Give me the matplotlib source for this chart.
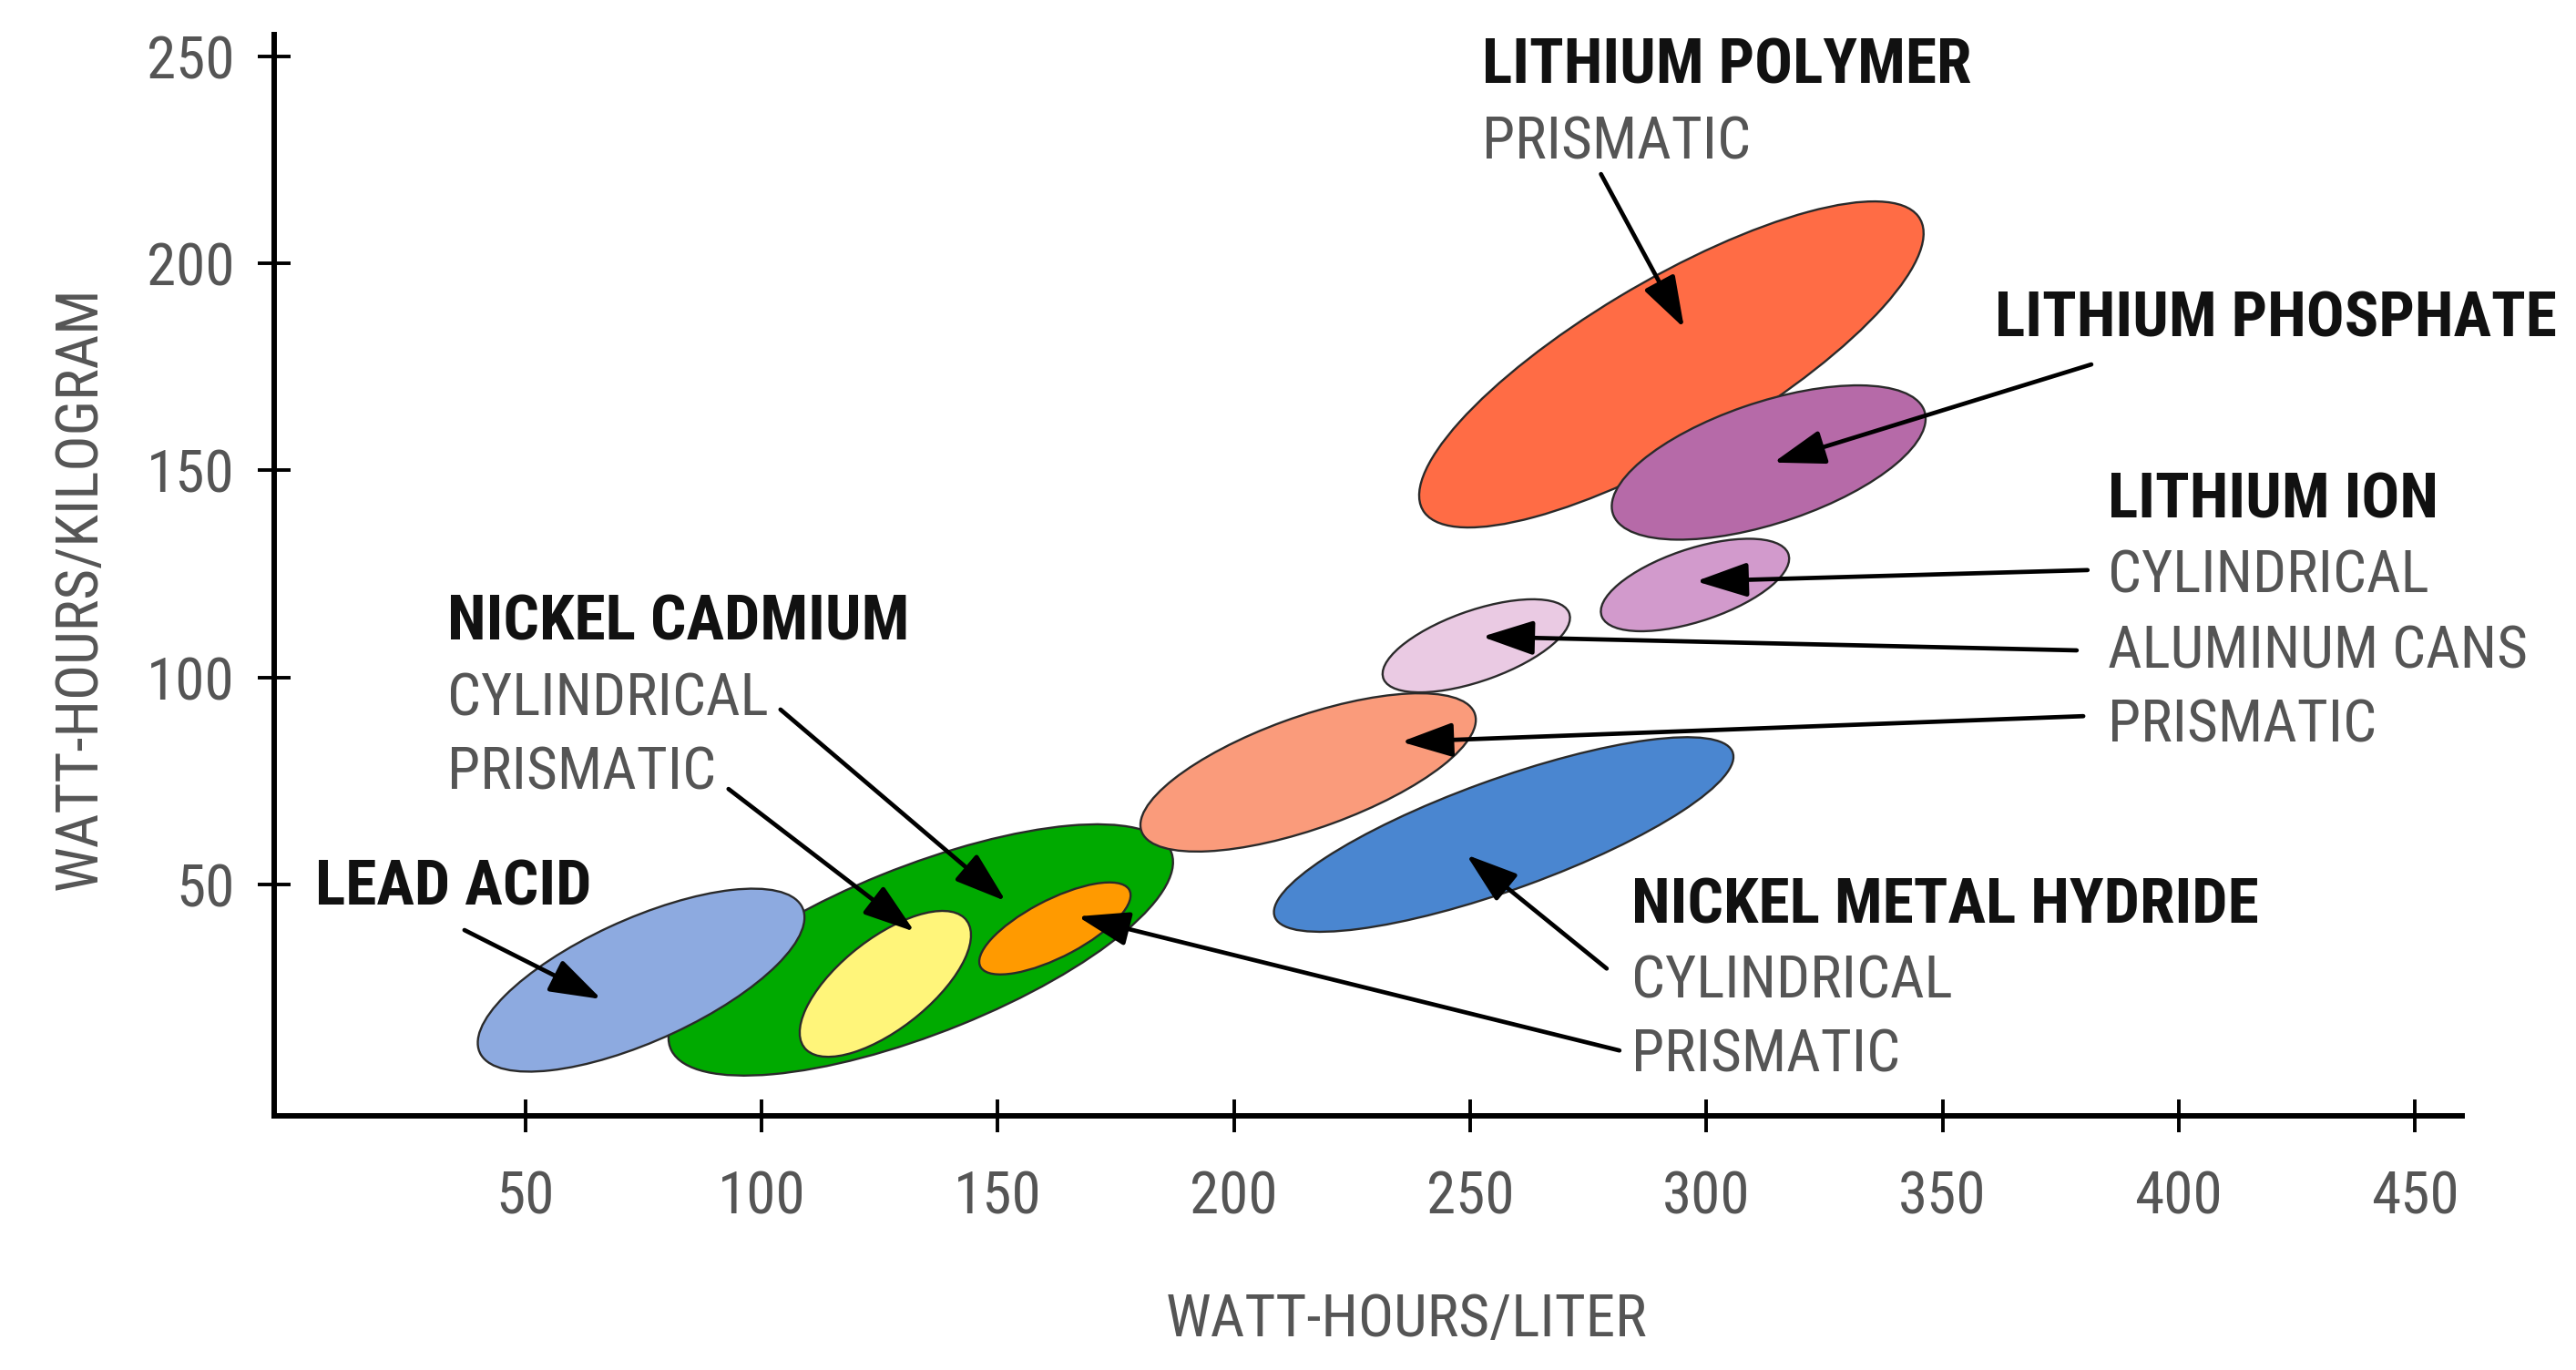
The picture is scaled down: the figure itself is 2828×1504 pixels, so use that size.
import matplotlib

matplotlib.use("Agg")
import matplotlib.pyplot as plt
from matplotlib import font_manager
from matplotlib.patches import Ellipse

# the original uses a condensed grotesque; take the first narrow face that is installed
plt.rcParams["font.family"] = ["Roboto Condensed", "Liberation Sans Narrow", "Arial Narrow",
                               "Noto Sans Condensed", "DejaVu Sans Condensed",
                               "Liberation Sans", "DejaVu Sans"]
plt.rcParams["font.stretch"] = "condensed"
_face = font_manager.findfont(font_manager.FontProperties(
    family=plt.rcParams["font.family"], stretch="condensed")).lower()
NARROW = "narrow" in _face or "condensed" in _face
FS_BOLD = 50 if NARROW else 41
FS_TEXT = 47 if NARROW else 39

# energy-density regions: centre (Wh/L, Wh/kg), ellipse extent and tilt in data units
regions = ["NiCd cylindrical", "lead acid", "NiCd prismatic", "NiMH prismatic",
           "Li-ion prismatic", "NiMH cylindrical", "Li-ion aluminum cans",
           "Li-ion cylindrical", "Li polymer", "Li phosphate"]
center_wh_l = [133.7, 74.5, 126.2, 162.1, 215.7, 257.1, 251.3, 297.6, 292.6, 313.2]
center_wh_kg = [34.1, 26.8, 25.9, 39.3, 77.0, 62.0, 107.6, 122.3, 175.6, 151.9]
span_major = [116.2, 76.8, 46.2, 36.6, 76.1, 104.8, 42.4, 42.3, 126.7, 70.5]
span_minor = [39.9, 29.0, 20.6, 13.5, 26.7, 26.3, 16.8, 17.3, 39.5, 28.9]
tilt_deg = [24.8, 28.0, 43.8, 31.3, 22.6, 22.6, 22.6, 21.5, 34.5, 21.5]
fills = ["#00AA00", "#8DAAE0", "#FFF57A", "#FF9A00", "#FA9B7B", "#4A86D0",
         "#EACAE3", "#D29ACC", "#FF6C45", "#B66AA8"]

# labels (left edge, vertical centre, in data units)
label_text = ["LEAD ACID", "NICKEL CADMIUM", "CYLINDRICAL", "PRISMATIC",
              "LITHIUM POLYMER", "PRISMATIC", "LITHIUM PHOSPHATE",
              "LITHIUM ION", "CYLINDRICAL", "ALUMINUM CANS", "PRISMATIC",
              "NICKEL METAL HYDRIDE", "CYLINDRICAL", "PRISMATIC"]
label_x = [5.5, 33.5, 33.5, 33.5, 252.5, 252.5, 361.1,
           384.9, 384.9, 384.9, 384.9, 284.1, 284.1, 284.1]
label_y = [49.1, 113.0, 94.7, 76.9, 247.5, 229.2, 186.5,
           142.7, 124.4, 106.2, 88.3, 44.7, 26.5, 8.6]
label_bold = [True, True, False, False, True, False, True,
              True, False, False, False, True, False, False]

# pointer arrows: tail -> head
arrow_tail_x = [37.1, 104.0, 93.0, 277.7, 381.5, 380.7, 378.4, 379.8, 278.9, 281.6]
arrow_tail_y = [38.9, 92.2, 73.0, 221.6, 175.6, 125.9, 106.5, 90.6, 29.6, 9.8]
arrow_head_x = [66.1, 151.7, 132.4, 295.3, 314.2, 297.8, 252.5, 235.4, 249.2, 166.9]
arrow_head_y = [22.2, 45.9, 38.5, 184.4, 151.9, 123.2, 109.8, 84.4, 57.1, 42.2]

x_ticks = [50, 100, 150, 200, 250, 300, 350, 400, 450]
y_ticks = [50, 100, 150, 200, 250]

fig = plt.figure(figsize=(28.28, 15.04), dpi=100)
ax = fig.add_axes([0.1064, 0.1855, 0.8494, 0.7892])
ax.set_xlim(-3.2, 460.0)
ax.set_ylim(-6.0, 255.3)

for i in range(len(regions)):
    ax.add_patch(Ellipse((center_wh_l[i], center_wh_kg[i]), span_major[i], span_minor[i],
                         angle=tilt_deg[i], facecolor=fills[i], edgecolor="#2a2a2a",
                         lw=1.7, zorder=2 + i * 0.01))

for tx, ty, hx, hy in zip(arrow_tail_x, arrow_tail_y, arrow_head_x, arrow_head_y):
    ax.annotate("", xy=(hx, hy), xytext=(tx, ty), zorder=5,
                arrowprops=dict(arrowstyle="-|>,head_length=0.6,head_width=0.2",
                                mutation_scale=58, lw=3.4, color="black",
                                shrinkA=0, shrinkB=0))

for s, x, y, b in zip(label_text, label_x, label_y, label_bold):
    ax.text(x, y, s, ha="left", va="center",
            fontsize=FS_BOLD if b else FS_TEXT,
            fontweight="bold" if b else "normal",
            color="#111111" if b else "#555555", zorder=6)

for side in ("top", "right"):
    ax.spines[side].set_visible(False)
for side in ("left", "bottom"):
    ax.spines[side].set_linewidth(4.3)
    ax.spines[side].set_color("black")

ax.set_xticks(x_ticks)
ax.set_yticks(y_ticks)
ax.tick_params(direction="inout", length=26, width=2.8, color="black",
               labelsize=FS_TEXT, labelcolor="#555555")
ax.tick_params(axis="x", pad=29)
ax.tick_params(axis="y", pad=18)

ax.set_xlabel("WATT-HOURS/LITER", fontsize=FS_TEXT, color="#555555")
ax.xaxis.set_label_coords(0.5175, -0.163)
ax.set_ylabel("WATT-HOURS/KILOGRAM", fontsize=FS_TEXT, color="#555555")
ax.yaxis.set_label_coords(-0.076, 0.488)

fig.savefig("out.png", dpi=100, facecolor="white")
